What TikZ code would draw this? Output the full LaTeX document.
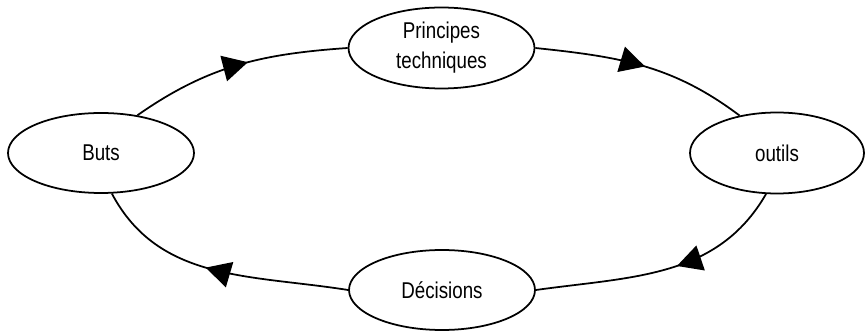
\documentclass[tikz,border=0pt]{standalone}
\usepackage{fontspec}
\setmainfont{Liberation Sans}[FakeStretch=0.82]
\usetikzlibrary{arrows.meta,shapes.geometric,decorations.markings}

\begin{document}
\begin{tikzpicture}[
    stepnode/.style={draw, ellipse, inner sep=0pt, minimum width=3.72cm, minimum height=1.6cm, align=center, font=\fontsize{13}{17}\selectfont},
    midarrow/.style={postaction={decorate}, decoration={markings, mark=at position #1 with {\arrow{Triangle[length=0.5cm, width=0.52cm]}}}},
    line width=1pt
]
\useasboundingbox (0,0) rectangle (17.32,6.64);

\node[stepnode] (buts) at (2.02,3.58) {Buts};
\node[stepnode, minimum height=1.62cm] (princ) at (8.83,5.68) {Principes\\techniques};
\node[stepnode, minimum width=3.48cm, minimum height=1.62cm] (outils) at (15.54,3.58) {outils};
\node[stepnode] (decis) at (8.84,0.84) {Décisions};

% cycle
\draw[midarrow=0.55] (buts.46) to[out=35, in=184] (princ.west);
\draw[midarrow=0.51] (princ.east) to[out=-6, in=143] (outils.135);
\draw[midarrow=0.45] (outils.255) to[out=240, in=8] (decis.east);
\draw[midarrow=0.54] (decis.west) to[out=171, in=298] (buts.285);

\end{tikzpicture}
\end{document}
